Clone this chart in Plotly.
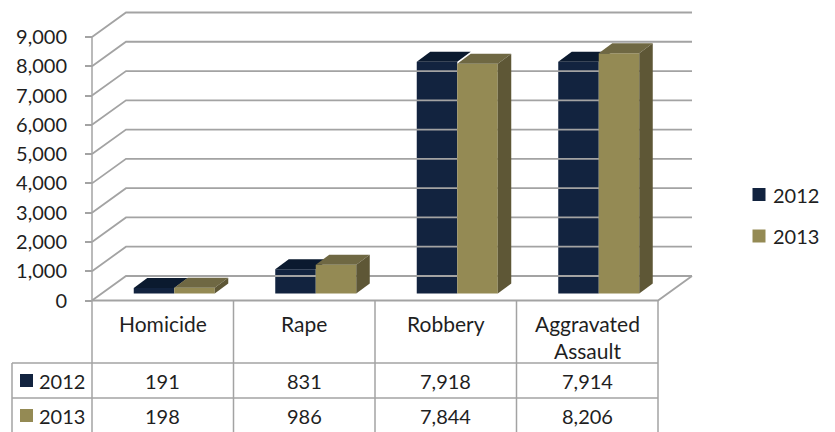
import plotly.graph_objects as go

# ---------------- data ----------------
categories = ["Homicide", "Rape", "Robbery", "Aggravated<br>Assault"]
series_names = ["2012", "2013"]
values_2012 = [191, 831, 7918, 7914]
values_2013 = [198, 986, 7844, 8206]
tick_values = [0, 1000, 2000, 3000, 4000, 5000, 6000, 7000, 8000, 9000]
tick_labels = ["0", "1,000", "2,000", "3,000", "4,000", "5,000",
               "6,000", "7,000", "8,000", "9,000"]

# ---------------- styling / geometry ----------------
W, H = 835, 432
X0_PX, CAT_PX = 92.0, 141.5          # left edge of front plane, category width
Y0_PX, PX_PER_UNIT = 300.5, 0.02928  # front floor row, pixels per value unit

def xu(px):   # pixel length -> x units
    return px / CAT_PX

def yu(px):   # pixel length -> y units
    return px / PX_PER_UNIT

def xpx(px):  # pixel column -> x coordinate
    return -0.5 + (px - X0_PX) / CAT_PX

def ypx(py):  # pixel row -> y coordinate
    return (Y0_PX - py) / PX_PER_UNIT

x_range = [xpx(0), xpx(W)]
y_range = [ypx(H), ypx(0)]

WDX, WDY = xu(34), yu(24.5)        # wall depth
BASE = yu(7)                       # bar front face base (depth offset)
BDX, BDY = xu(13.5), yu(10)        # bar depth
BW = xu(40.5)                      # bar width
SHIFT = xu(11.5)                   # horizontal shift of bar pair

GRID = "#A3A3A3"
TXT = "#1f1f1f"
FONT = "Lato"
colors_front = ["#12233F", "#948A54"]
colors_top = ["#0B1A2F", "#6F6843"]
colors_side = ["#0A1628", "#5E5736"]

n = len(categories)
left_x = -0.5
right_x = n - 0.5

fig = go.Figure()

# back wall + left wall gridlines
gx, gy = [], []
for v in tick_values:
    gx += [left_x, left_x + WDX, right_x + WDX, None]
    gy += [v, v + WDY, v + WDY, None]
# floor front edge and right diagonal
gx += [left_x, right_x, right_x + WDX, None]
gy += [0, 0, WDY, None]
fig.add_trace(go.Scatter(x=gx, y=gy, mode="lines", hoverinfo="skip",
                         line=dict(color=GRID, width=1.8), showlegend=False))

# table lines
tx, ty = [], []
bottom = ypx(H + 2)
tx += [left_x, left_x, None]
ty += [max(tick_values), bottom, None]
for i in range(n):
    tx += [i + 0.5, i + 0.5, None]
    ty += [0, bottom, None]
tx += [xpx(12), xpx(12), None]
ty += [ypx(363), bottom, None]
for row_py in [363, 398]:
    tx += [xpx(12), right_x, None]
    ty += [ypx(row_py), ypx(row_py), None]
fig.add_trace(go.Scatter(x=tx, y=ty, mode="lines", hoverinfo="skip",
                         line=dict(color=GRID, width=1.5), showlegend=False))

# bars
all_vals = [values_2012, values_2013]
for s, vals in enumerate(all_vals):
    xa = "x" if s == 0 else "x2"
    centers = [i + SHIFT + (s - 0.5) * BW for i in range(n)]
    fig.add_trace(go.Bar(x=centers, y=vals, base=BASE, width=BW,
                         marker=dict(color=colors_front[s], line=dict(width=0)),
                         xaxis=xa, yaxis="y", showlegend=False,
                         name=series_names[s]))
    for c, v in zip(centers, vals):
        xl, xr = c - BW / 2, c + BW / 2
        top = BASE + v
        fig.add_trace(go.Scatter(
            x=[xl, xl + BDX, xr + BDX, xr, xl],
            y=[top, top + BDY, top + BDY, top, top],
            fill="toself", fillcolor=colors_top[s], mode="lines",
            line=dict(width=0, color=colors_top[s]), hoverinfo="skip",
            xaxis=xa, yaxis="y", showlegend=False))
        if s == len(all_vals) - 1:
            fig.add_trace(go.Scatter(
                x=[xr, xr + BDX, xr + BDX, xr, xr],
                y=[BASE, BASE + BDY, top + BDY, top, BASE],
                fill="toself", fillcolor=colors_side[s], mode="lines",
                line=dict(width=0, color=colors_side[s]), hoverinfo="skip",
                xaxis=xa, yaxis="y", showlegend=False))

# legend keys (table and right legend)
key_x = [xpx(26.5), xpx(26.5)]
key_y = [ypx(380.5), ypx(415.5)]
leg_x = [xpx(759), xpx(759)]
leg_y = [ypx(194.5), ypx(236)]
for s in range(2):
    fig.add_trace(go.Scatter(
        x=[key_x[s], leg_x[s]], y=[key_y[s], leg_y[s]], mode="markers",
        marker=dict(symbol="square", size=13, color=colors_front[s]),
        hoverinfo="skip", showlegend=False, name=series_names[s], xaxis="x2"))

annotations = []
font = dict(family=FONT, size=20, color=TXT)
cat_font = dict(family=FONT, size=21, color=TXT)
for i, cat in enumerate(categories):
    cy = ypx(336.5) if "<br>" in cat else ypx(323)
    annotations.append(dict(x=i, y=cy, text=cat, showarrow=False,
                            xref="x", yref="y", font=cat_font,
                            xanchor="center", yanchor="middle"))
for s, vals in enumerate(all_vals):
    for i, v in enumerate(vals):
        annotations.append(dict(x=i, y=key_y[s], text=f"{v:,}", showarrow=False,
                                xref="x", yref="y", font=font,
                                xanchor="center", yanchor="middle"))
    annotations.append(dict(x=xpx(37), y=key_y[s], text=series_names[s],
                            showarrow=False, xref="x", yref="y", font=font,
                            xanchor="left", yanchor="middle"))
    annotations.append(dict(x=xpx(771), y=leg_y[s], text=series_names[s],
                            showarrow=False, xref="x", yref="y", font=font,
                            xanchor="left", yanchor="middle"))

fig.update_layout(
    width=W, height=H,
    margin=dict(l=0, r=0, t=0, b=0),
    paper_bgcolor="white", plot_bgcolor="white",
    barmode="overlay",
    showlegend=False,
    font=font,
    annotations=annotations,
    xaxis=dict(range=x_range, visible=False, fixedrange=True),
    xaxis2=dict(range=x_range, visible=False, overlaying="x", fixedrange=True),
    yaxis=dict(range=y_range, anchor="free", position=X0_PX / W,
               showgrid=False, zeroline=False, showline=False,
               tickmode="array", tickvals=tick_values, ticktext=tick_labels,
               ticks="outside", ticklen=7, tickwidth=1.5, tickcolor=GRID,
               ticklabelstandoff=14, tickfont=font, automargin=False,
               fixedrange=True),
)

fig.write_html("out.html", config={"displayModeBar": False},
               post_script="document.body.style.margin='0px';"
                           "document.body.style.overflow='hidden';")
